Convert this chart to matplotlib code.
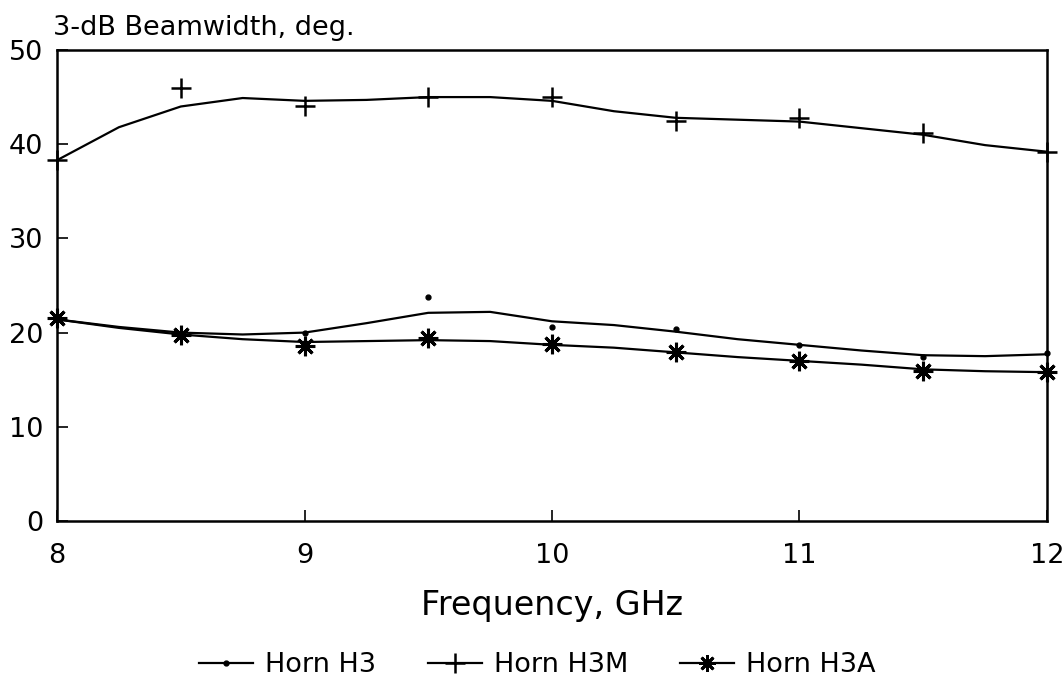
import numpy as np
import matplotlib.pyplot as plt
from matplotlib.lines import Line2D

# --- measured points (markers) ---
freq = [8.0, 8.5, 9.0, 9.5, 10.0, 10.5, 11.0, 11.5, 12.0]
h3_pts = [21.4, 20.0, 20.0, 23.8, 20.6, 20.4, 18.7, 17.4, 17.8]
h3m_pts = [38.3, 46.0, 44.1, 45.0, 45.0, 42.5, 42.8, 41.2, 39.2]
h3a_pts = [21.5, 19.7, 18.6, 19.4, 18.8, 17.9, 17.0, 15.9, 15.8]

# --- fitted curves, every 0.25 GHz ---
freq_fit = [8.0, 8.25, 8.5, 8.75, 9.0, 9.25, 9.5, 9.75, 10.0,
            10.25, 10.5, 10.75, 11.0, 11.25, 11.5, 11.75, 12.0]
h3_fit = [21.4, 20.6, 20.0, 19.8, 20.0, 21.0, 22.1, 22.2, 21.2,
          20.8, 20.1, 19.3, 18.7, 18.1, 17.6, 17.5, 17.7]
h3m_fit = [38.3, 41.8, 44.0, 44.9, 44.6, 44.7, 45.0, 45.0, 44.6,
           43.5, 42.8, 42.6, 42.4, 41.7, 41.0, 39.9, 39.2]
h3a_fit = [21.4, 20.5, 19.8, 19.3, 19.0, 19.1, 19.2, 19.1, 18.7,
           18.4, 17.9, 17.4, 17.0, 16.6, 16.1, 15.9, 15.8]

labels = ['Horn H3', 'Horn H3M', 'Horn H3A']

plt.rcParams['font.family'] = ['DejaVu Sans']

fig = plt.figure(figsize=(10.64, 6.8), dpi=100)
ax = fig.add_axes([0.0536, 0.2338, 0.9304, 0.6927])

ax.plot(freq_fit, h3_fit, color='black', lw=1.6)
ax.plot(freq_fit, h3m_fit, color='black', lw=1.6)
ax.plot(freq_fit, h3a_fit, color='black', lw=1.6)

star = (8, 2, 0)
ax.plot(freq, h3_pts, ls='none', marker='o', ms=3.5, color='black', clip_on=False)
ax.plot(freq, h3m_pts, ls='none', marker='+', ms=15, mew=1.8, color='black', clip_on=False)
ax.plot(freq, h3a_pts, ls='none', marker=star, ms=14, mew=2.2, color='black', clip_on=False)
ax.plot(freq, h3a_pts, ls='none', marker='o', ms=6, color='black', clip_on=False)

ax.set_xlim(8, 12)
ax.set_ylim(0, 50)
ax.set_xticks([8, 9, 10, 11, 12])
ax.set_yticks([0, 10, 20, 30, 40, 50])
ax.tick_params(direction='in', length=8, width=1.2, labelsize=19.5,
               top=False, right=False)
ax.tick_params(axis='x', pad=16)
ax.tick_params(axis='y', pad=10)
for s in ax.spines.values():
    s.set_linewidth(1.8)

ax.set_xlabel('Frequency, GHz', fontsize=24, labelpad=14)
ax.text(-0.004, 1.032, '3-dB Beamwidth, deg.', transform=ax.transAxes,
        fontsize=19.5, ha='left', va='baseline')

handles = [
    Line2D([], [], color='black', lw=1.6, marker='o', ms=3.5),
    Line2D([], [], color='black', lw=1.6, marker='+', ms=14, mew=1.8),
    Line2D([], [], color='black', lw=1.6, marker=star, ms=12, mew=2.0),
]
fig.legend(handles, labels, loc='center', bbox_to_anchor=(0.505, 0.022),
           ncol=3, frameon=False, fontsize=19.5, handlelength=2.0,
           columnspacing=1.9, handletextpad=0.45)

fig.savefig('out.png', dpi=100)
